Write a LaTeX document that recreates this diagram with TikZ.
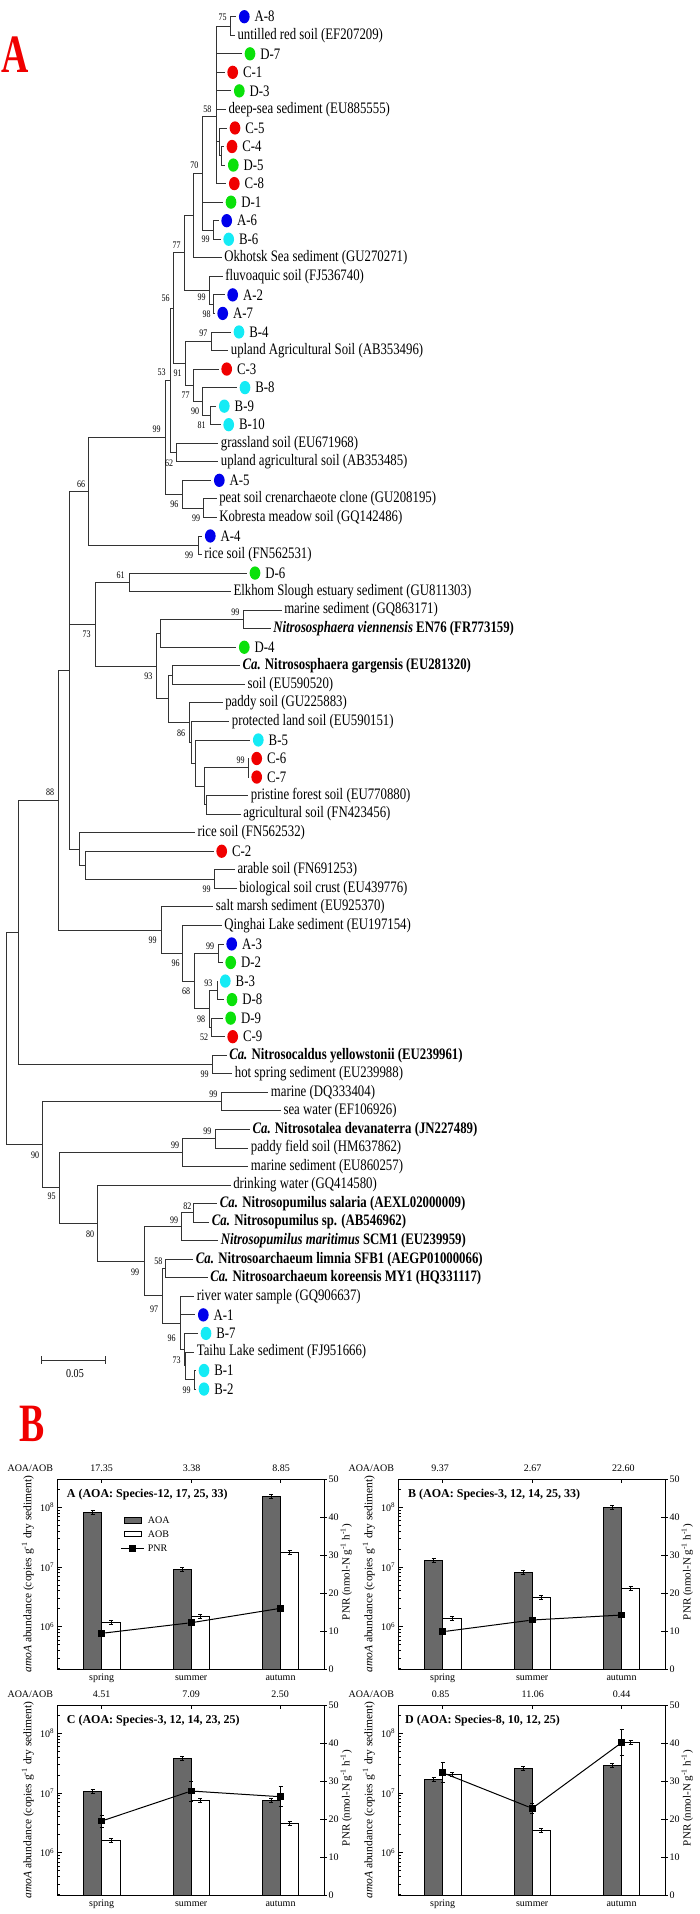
\documentclass[tikz,border=0pt]{standalone}
\usepackage{fontspec}
\setmainfont{Liberation Serif}
\usetikzlibrary{positioning,shapes.geometric}

\definecolor{dotA}{RGB}{0,0,235}
\definecolor{dotB}{RGB}{20,235,245}
\definecolor{dotC}{RGB}{240,0,0}
\definecolor{dotD}{RGB}{10,225,10}
\definecolor{panelred}{RGB}{240,0,0}
\definecolor{aoagray}{RGB}{105,105,105}

\tikzset{declare function={ly(\i)=16.7+(\i-1)*18.545; ab(\v)=147.7-(\v-6)*59.7; pn(\p)=190-3.8*\p;}}

% error bar: x, y, half length
\newcommand{\errbar}[3]{\draw[err] (#1,#2-#3) -- (#1,#2+#3) (#1-2,#2-#3) -- (#1+2,#2-#3) (#1-2,#2+#3) -- (#1+2,#2+#3);}

% frame, ticks and axis texts of one chart
\newcommand{\panelaxes}{%
  \draw[frame] (0,0) rectangle (267,190);
  \foreach \d in {5,6,7} \foreach \m in {2,...,9}
    \draw[frame] (0,{ab(\d+log10(\m))}) -- ++(2.5,0);
  \draw[frame] (0,{ab(8+log10(2))}) -- ++(2.5,0);
  \foreach \d in {6,7,8} {
    \draw[frame] (0,{ab(\d)}) -- ++(5,0);
    \node[tick, anchor=east] (tl\d) at (-2,{ab(\d)}) {10\textsuperscript{\d}};
  }
  \foreach \p in {0,10,...,50} {
    \draw[frame] (263,{pn(\p)}) -- ++(7,0);
    \node[tick, anchor=west] (tr\p) at (270,{pn(\p)}) {\p};
  }
  \foreach \c/\s in {44.4/spring,133.9/summer,223.2/autumn} {
    \draw[frame] (\c,190) -- ++(0,-4) (\c,0) -- ++(0,4);
    \node[tick] (x\s) at (\c,199) {\s};
  }
  \node[tick, anchor=east] (hd) at (-3,-11) {AOA/AOB};
  \node[axl, font=\fontsize{11.5}{12}\selectfont] (yl) at (-29.5,95) {\textit{amoA} abundance (copies g\textsuperscript{-1} dry sediment)};
  \node[axl] (yr) at (289,93) {PNR (nmol-N g\textsuperscript{-1} h\textsuperscript{-1})};
}

\begin{document}
\begin{tikzpicture}[x=1pt,y=-1pt,
  tree/.style={every edge/.style={draw=black!80, line width=0.8pt, to path={|- (\tikztotarget)}}},
  leafdot/.style={ellipse, minimum width=10.7pt, minimum height=13.3pt, inner sep=0pt, outer sep=2.5pt},
  lf/.style={anchor=west, inner xsep=3pt, inner ysep=1pt, font=\fontsize{16}{18}\selectfont, xscale=0.8},
  boot/.style={inner sep=0pt, font=\fontsize{10}{11}\selectfont, xscale=0.8},
  big/.style={text=panelred, font=\fontsize{54}{54}\selectfont\bfseries, xscale=0.7, inner sep=0pt},
  frame/.style={draw=black, line width=0.7pt},
  tick/.style={inner sep=1pt, font=\fontsize{10}{12}\selectfont},
  ttl/.style={anchor=west, inner sep=0pt, font=\fontsize{12}{14}\selectfont\bfseries},
  axl/.style={inner sep=0pt, rotate=90, font=\fontsize{11}{12}\selectfont},
  aoa/.style={draw=black, line width=0.7pt, fill=aoagray},
  aob/.style={draw=black, line width=0.7pt, fill=white},
  err/.style={draw=black, line width=0.5pt},
  sq/.style={rectangle, fill=black, minimum size=6.7pt, inner sep=0pt},
  pnr/.style={draw=black, line width=1pt}]

\useasboundingbox (0,0) rectangle (700,1914);

\node[big] (panA) at (15.3,55) {A};
\node[big] (panB) at (32.5,1424) {B};

% ---- tree: leaves with coloured dots
\foreach \i/\x/\c/\t in {1/244.3/dotA/A-8, 3/250/dotD/D-7, 4/232.7/dotC/C-1, 5/239.3/dotD/D-3,
    7/235/dotC/C-5, 8/232/dotC/C-4, 9/233.3/dotD/D-5, 10/234.3/dotC/C-8, 11/231/dotD/D-1,
    12/226.7/dotA/A-6, 13/228.7/dotB/B-6, 16/232.7/dotA/A-2, 17/222.7/dotA/A-7, 18/239/dotB/B-4,
    20/226.7/dotC/C-3, 21/245/dotB/B-8, 22/224.3/dotB/B-9, 23/228.7/dotB/B-10, 26/219.3/dotA/A-5,
    29/210.3/dotA/A-4, 31/255/dotD/D-6, 35/244.3/dotD/D-4, 40/258.3/dotB/B-5, 41/256.7/dotC/C-6,
    42/256.7/dotC/C-7, 46/221.7/dotC/C-2, 51/231.7/dotA/A-3, 52/230.7/dotD/D-2, 53/225.3/dotB/B-3,
    54/232/dotD/D-8, 55/230.7/dotD/D-9, 56/232.7/dotC/C-9, 71/203.3/dotA/A-1, 72/206/dotB/B-7,
    74/204/dotB/B-1, 75/204/dotB/B-2}{
  \node[leafdot, fill=\c] (l\i) at (\x,{ly(\i)}) {};
  \node[lf, right=0pt of l\i] (t\i) {\t};
}

% ---- tree: reference sequences
\foreach \i/\x/\t in {2/235/untilled red soil (EF207209),
    6/226/deep-sea sediment (EU885555),
    14/221.7/Okhotsk Sea sediment (GU270271),
    15/222.7/fluvoaquic soil (FJ536740),
    19/228.3/upland Agricultural Soil (AB353496),
    24/218.3/grassland soil (EU671968),
    25/218.3/upland agricultural soil (AB353485),
    27/216.7/peat soil crenarchaeote clone (GU208195),
    28/216.7/Kobresta meadow soil (GQ142486),
    30/201.7/rice soil (FN562531),
    32/231/Elkhom Slough estuary sediment (GU811303),
    33/281.7/marine sediment (GQ863171),
    34/270.7/{\textbf{\textit{Nitrososphaera viennensis} EN76 (FR773159)}},
    36/240/{\textbf{\textit{Ca.} Nitrososphaera gargensis (EU281320)}},
    37/245/soil (EU590520),
    38/222.7/paddy soil (GU225883),
    39/229.3/protected land soil (EU590151),
    43/248.3/pristine forest soil (EU770880),
    44/240.7/agricultural soil (FN423456),
    45/195/rice soil (FN562532),
    47/235/arable soil (FN691253),
    48/236.7/biological soil crust (EU439776),
    49/213.3/salt marsh sediment (EU925370),
    50/221.7/Qinghai Lake sediment (EU197154),
    57/226.7/{\textbf{\textit{Ca.} Nitrosocaldus yellowstonii (EU239961)}},
    58/232.3/hot spring sediment (EU239988),
    59/268.3/marine (DQ333404),
    60/281/sea water (EF106926),
    61/250/{\textbf{\textit{Ca.} Nitrosotalea devanaterra (JN227489)}},
    62/248.3/paddy field soil (HM637862),
    63/248.3/marine sediment (EU860257),
    64/230.7/drinking water (GQ414580),
    65/217.3/{\textbf{\textit{Ca.} Nitrosopumilus salaria (AEXL02000009)}},
    66/209.3/{\textbf{\textit{Ca.} Nitrosopumilus sp. (AB546962)}},
    67/218.3/{\textbf{\textit{Nitrosopumilus maritimus} SCM1 (EU239959)}},
    68/193.3/{\textbf{\textit{Ca.} Nitrosoarchaeum limnia SFB1 (AEGP01000066)}},
    69/207.7/{\textbf{\textit{Ca.} Nitrosoarchaeum koreensis MY1 (HQ331117)}},
    70/194.3/river water sample (GQ906637),
    73/194.3/Taihu Lake sediment (FJ951666)}
  \node[lf] (l\i) at (\x,{ly(\i)}) {\t};

% ---- tree: inner nodes
\coordinate (nA8) at (230,25.98);
\coordinate (nC45) at (221.3,155.79);
\coordinate (nC5) at (219.7,141.88);
\coordinate (nDeep) at (216,116.7);
\coordinate (nA6) at (213.3,229.97);
\coordinate (n70) at (202.3,173.3);
\coordinate (nOkh) at (193.3,215.5);
\coordinate (nA2) at (213.3,304.15);
\coordinate (nFluvo) at (209.3,290.24);
\coordinate (n77) at (184.3,252.87);
\coordinate (nB4) at (211.7,341.24);
\coordinate (nB9) at (210,415.42);
\coordinate (nB8) at (202.7,401.51);
\coordinate (nC3) at (193.3,385.29);
\coordinate (n91) at (185.7,363.27);
\coordinate (n56) at (173.3,308.07);
\coordinate (nGrass) at (176.7,452.51);
\coordinate (n53) at (170.7,380.29);
\coordinate (nPeat) at (203.3,508.15);
\coordinate (nA5) at (182.3,494.24);
\coordinate (n99) at (165.7,437.27);
\coordinate (nA4) at (198.3,545.24);
\coordinate (n66) at (88.3,491.26);
\coordinate (nD6) at (129,582.33);
\coordinate (nVien) at (243.3,619.42);
\coordinate (nD4) at (160,633.33);
\coordinate (nGarg) at (172.3,675.05);
\coordinate (nC67) at (248,767.78);
\coordinate (nPrist) at (206,804.87);
\coordinate (nR) at (204.3,786.33);
\coordinate (nB5) at (195,763.15);
\coordinate (nProt) at (191.7,742.28);
\coordinate (n86) at (189,722.58);
\coordinate (nGS) at (168,698.82);
\coordinate (n93) at (156,666.08);
\coordinate (n73) at (95,624.2);
\coordinate (nArab) at (214,879.05);
\coordinate (nC2) at (85,865.14);
\coordinate (nRice) at (79,848.91);
\coordinate (nSoil) at (69,670.09);
\coordinate (nA3) at (218.3,953.23);
\coordinate (nB3) at (217.3,990.32);
\coordinate (nD9) at (211,1027.41);
\coordinate (n98) at (209.3,1008.87);
\coordinate (n68) at (194,981.05);
\coordinate (nQing) at (182.7,953.23);
\coordinate (nSalt) at (161.7,930.05);
\coordinate (n88) at (58.3,800.07);
\coordinate (nCal) at (212.7,1064.5);
\coordinate (nTop) at (18.3,932.29);
\coordinate (nMar) at (221,1101.59);
\coordinate (nDev) at (215,1138.68);
\coordinate (nMarS) at (182.3,1152.59);
\coordinate (nSal) at (193.3,1212.86);
\coordinate (nMarit) at (181.7,1226.77);
\coordinate (nLim) at (165.7,1268.49);
\coordinate (nB1) at (194.3,1379.76);
\coordinate (nTaihu) at (185.7,1365.85);
\coordinate (nB7) at (184.3,1349.63);
\coordinate (nRiver) at (180,1322.97);
\coordinate (nArch) at (162.3,1295.73);
\coordinate (nPum) at (144,1261.25);
\coordinate (n80) at (97.7,1223.15);
\coordinate (n95) at (59.3,1187.87);
\coordinate (n90) at (42.7,1144.73);
\coordinate (root) at (6.7,1038.51);

\path[tree]
  (nA8) edge (l1) edge (l2)
  (nC45) edge (l8) edge (l9)
  (nC5) edge (l7) edge (nC45)
  (nDeep) edge (nA8) edge (l3) edge (l4) edge (l5) edge (l6) edge (nC5) edge (l10)
  (nA6) edge (l12) edge (l13)
  (n70) edge (nDeep) edge (l11) edge (nA6)
  (nOkh) edge (n70) edge (l14)
  (nA2) edge (l16) edge (l17)
  (nFluvo) edge (l15) edge (nA2)
  (n77) edge (nOkh) edge (nFluvo)
  (nB4) edge (l18) edge (l19)
  (nB9) edge (l22) edge (l23)
  (nB8) edge (l21) edge (nB9)
  (nC3) edge (l20) edge (nB8)
  (n91) edge (nB4) edge (nC3)
  (n56) edge (n77) edge (n91)
  (nGrass) edge (l24) edge (l25)
  (n53) edge (n56) edge (nGrass)
  (nPeat) edge (l27) edge (l28)
  (nA5) edge (l26) edge (nPeat)
  (n99) edge (n53) edge (nA5)
  (nA4) edge (l29) edge (l30)
  (n66) edge (n99) edge (nA4)
  (nD6) edge (l31) edge (l32)
  (nVien) edge (l33) edge (l34)
  (nD4) edge (nVien) edge (l35)
  (nGarg) edge (l36) edge (l37)
  (nC67) edge (l41) edge (l42)
  (nPrist) edge (l43) edge (l44)
  (nR) edge (nC67) edge (nPrist)
  (nB5) edge (l40) edge (nR)
  (nProt) edge (l39) edge (nB5)
  (n86) edge (l38) edge (nProt)
  (nGS) edge (nGarg) edge (n86)
  (n93) edge (nD4) edge (nGS)
  (n73) edge (nD6) edge (n93)
  (nArab) edge (l47) edge (l48)
  (nC2) edge (l46) edge (nArab)
  (nRice) edge (l45) edge (nC2)
  (nSoil) edge (n66) edge (n73) edge (nRice)
  (nA3) edge (l51) edge (l52)
  (nB3) edge (l53) edge (l54)
  (nD9) edge (l55) edge (l56)
  (n98) edge (nB3) edge (nD9)
  (n68) edge (nA3) edge (n98)
  (nQing) edge (l50) edge (n68)
  (nSalt) edge (l49) edge (nQing)
  (n88) edge (nSoil) edge (nSalt)
  (nCal) edge (l57) edge (l58)
  (nTop) edge (n88) edge (nCal)
  (nMar) edge (l59) edge (l60)
  (nDev) edge (l61) edge (l62)
  (nMarS) edge (nDev) edge (l63)
  (nSal) edge (l65) edge (l66)
  (nMarit) edge (nSal) edge (l67)
  (nLim) edge (l68) edge (l69)
  (nB1) edge (l74) edge (l75)
  (nTaihu) edge (l73) edge (nB1)
  (nB7) edge (l72) edge (nTaihu)
  (nRiver) edge (l70) edge (l71) edge (nB7)
  (nArch) edge (nLim) edge (nRiver)
  (nPum) edge (nMarit) edge (nArch)
  (n80) edge (l64) edge (nPum)
  (n95) edge (nMarS) edge (n80)
  (n90) edge (nMar) edge (n95)
  (root) edge (nTop) edge (n90);

% bootstrap values
\foreach \x/\y/\v [count=\k] in {222.7/17.3/75, 207.3/109.3/58, 194.3/165.7/70, 205.7/239.3/99,
    176.7/245.7/77, 165.7/298.3/56, 201.7/297.7/99, 206.7/314/98, 203.3/333.3/97, 161.7/372.7/53,
    177.7/373.3/91, 185.7/395.7/77, 195/411/90, 201.7/425.7/81, 156.7/429.3/99, 169/463.3/62,
    81/484.3/66, 174.3/504/96, 196/518.3/99, 189/555.7/99, 120.7/575/61, 235.3/612.7/99,
    86.7/634.3/73, 148.3/676/93, 181/733.3/86, 240.7/760.7/99, 50/792.7/88, 206.7/889.3/99,
    152.7/940.7/99, 210/946/99, 175.7/963.3/96, 208.3/983.3/93, 186/991.7/68, 201/1019/98,
    204/1037.7/52, 204.7/1074.3/99, 213.3/1094/99, 207.3/1131/99, 175/1145.7/99, 35/1155/90,
    51.7/1196.7/95, 187.3/1206/82, 174/1220/99, 90/1234.3/80, 158.3/1261.7/58, 135/1272.7/99,
    154/1309/97, 171.7/1338.3/96, 176.7/1360/73, 186.7/1390/99}
  \node[boot] (bs\k) at (\x,\y) {\v};

% scale bar
\draw[black!80, line width=0.8pt] (41.7,1356) -- (41.7,1364) (41.7,1360) -- (105,1360) (105,1356) -- (105,1364);
\node[boot, font=\fontsize{12}{13}\selectfont, xscale=1.05] (sbar) at (75,1373.3) {0.05};

% ---- chart A
\begin{scope}[shift={(57.3,1479)}]
  \foreach \c/\a/\b in {44.4/33.7/143.7, 133.9/90/137.7, 223.2/17/73.7} {
    \draw[aoa] (\c-18.3,190) rectangle (\c,\a);
    \draw[aob] (\c,190) rectangle (\c+18.3,\b);
    \errbar{\c-9.15}{\a}{2}
    \errbar{\c+9.15}{\b}{2}
  }
  \panelaxes
  \foreach \c/\r [count=\k] in {44.4/17.35, 134.4/3.38, 223.7/8.85} \node[tick] (rA\k) at (\c,-11) {\r};
  \node[ttl] (ttlA) at (9.4,16) {A (AOA: Species-12, 17, 25, 33)};
  \errbar{44.4}{154.3}{2}
  \errbar{133.9}{143.7}{3}
  \errbar{223.2}{129.3}{2}
  \node[sq] (pA1) at (44.4,154.3) {};
  \node[sq] (pA2) at (133.9,143.7) {};
  \node[sq] (pA3) at (223.2,129.3) {};
  \draw[pnr] (pA1) -- (pA2) -- (pA3);
  % legend
  \draw[aoa] (66.7,38.3) rectangle (84.4,44.3);
  \draw[aob] (66.7,52.7) rectangle (84.4,57.7);
  \coordinate (lg1) at (64,69.3);
  \coordinate (lg2) at (87,69.3);
  \draw[pnr] (lg1) -- (lg2);
  \node[sq] (lgsq) at (75.5,69.3) {};
  \node[tick, anchor=west] (lgAOA) at (89.4,41.3) {AOA};
  \node[tick, anchor=west] (lgAOB) at (89.4,55.2) {AOB};
  \node[tick, anchor=west] (lgPNR) at (89.4,69.3) {PNR};
\end{scope}

% ---- chart B
\begin{scope}[shift={(398.3,1479)}]
  \foreach \c/\a/\b in {44.4/81/139.7, 133.9/93/118.3, 223.2/28.7/109.3} {
    \draw[aoa] (\c-18.3,190) rectangle (\c,\a);
    \draw[aob] (\c,190) rectangle (\c+18.3,\b);
    \errbar{\c-9.15}{\a}{2}
    \errbar{\c+9.15}{\b}{2}
  }
  \panelaxes
  \foreach \c/\r [count=\k] in {41.7/9.37, 134.4/2.67, 225/22.60} \node[tick] (rB\k) at (\c,-11) {\r};
  \node[ttl] (ttlB) at (9.7,16) {B (AOA: Species-3, 12, 14, 25, 33)};
  \errbar{44.4}{152.7}{1.5}
  \errbar{133.9}{141}{2}
  \errbar{223.2}{136}{2}
  \node[sq] (pB1) at (44.4,152.7) {};
  \node[sq] (pB2) at (133.9,141) {};
  \node[sq] (pB3) at (223.2,136) {};
  \draw[pnr] (pB1) -- (pB2) -- (pB3);
\end{scope}

% ---- chart C
\begin{scope}[shift={(57.3,1705)}]
  \foreach \c/\a/\b in {44.4/86.7/135, 133.9/53.3/95, 223.2/95.7/118.3} {
    \draw[aoa] (\c-18.3,190) rectangle (\c,\a);
    \draw[aob] (\c,190) rectangle (\c+18.3,\b);
    \errbar{\c-9.15}{\a}{2}
    \errbar{\c+9.15}{\b}{2}
  }
  \panelaxes
  \foreach \c/\r [count=\k] in {44.4/4.51, 133.7/7.09, 222.7/2.50} \node[tick] (rC\k) at (\c,-11) {\r};
  \node[ttl] (ttlC) at (9.4,16) {C (AOA: Species-3, 12, 14, 23, 25)};
  \errbar{44.4}{116}{6}
  \errbar{133.9}{86}{10}
  \errbar{223.2}{91.7}{10}
  \node[sq] (pC1) at (44.4,116) {};
  \node[sq] (pC2) at (133.9,86) {};
  \node[sq] (pC3) at (223.2,91.7) {};
  \draw[pnr] (pC1) -- (pC2) -- (pC3);
\end{scope}

% ---- chart D
\begin{scope}[shift={(398.3,1705)}]
  \foreach \c/\a/\b in {44.4/74.3/69.3, 133.9/63.3/125.7, 223.2/60/37.7} {
    \draw[aoa] (\c-18.3,190) rectangle (\c,\a);
    \draw[aob] (\c,190) rectangle (\c+18.3,\b);
    \errbar{\c-9.15}{\a}{2}
    \errbar{\c+9.15}{\b}{2}
  }
  \panelaxes
  \foreach \c/\r [count=\k] in {42.4/0.85, 134.4/11.06, 223.4/0.44} \node[tick] (rD\k) at (\c,-11) {\r};
  \node[ttl] (ttlD) at (6.7,16) {D (AOA: Species-8, 10, 12, 25)};
  \errbar{44.4}{67.7}{10}
  \errbar{133.9}{103.3}{5}
  \errbar{223.2}{37.7}{13}
  \node[sq] (pD1) at (44.4,67.7) {};
  \node[sq] (pD2) at (133.9,103.3) {};
  \node[sq] (pD3) at (223.2,37.7) {};
  \draw[pnr] (pD1) -- (pD2) -- (pD3);
\end{scope}
\end{tikzpicture}
\end{document}
